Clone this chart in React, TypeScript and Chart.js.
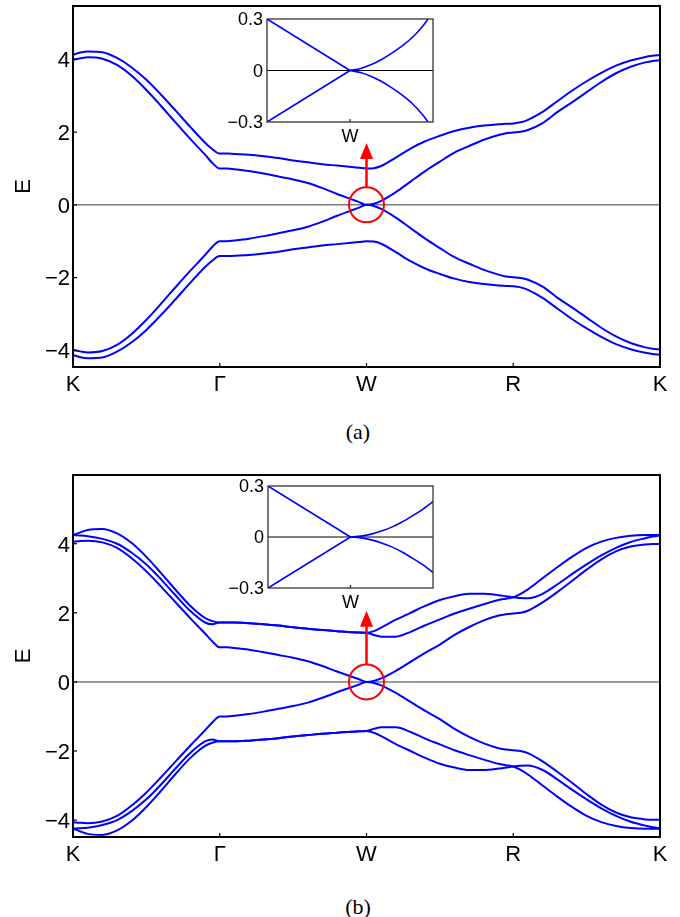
import React, { useEffect, useRef } from "react";
import { Chart, registerables } from "chart.js";

Chart.register(...registerables);

// ---------- data ----------
// k-path positions: K=0, Γ=1, W=2, R=3, K=4
const K_PATH = [
  0, 0.05, 0.1, 0.2, 0.3, 0.4, 0.5, 0.6, 0.7, 0.8, 0.9, 0.95,
  1, 1.05, 1.1, 1.2, 1.3, 1.4, 1.5, 1.6, 1.7, 1.8, 1.9, 1.95,
  2, 2.05, 2.1, 2.2, 2.3, 2.4, 2.5, 2.6, 2.7, 2.8, 2.9, 2.95,
  3, 3.05, 3.1, 3.2, 3.3, 3.4, 3.5, 3.6, 3.7, 3.8, 3.9, 3.95,
  4,
];
const X_TICKS = [0, 1, 2, 3, 4];
const X_LABELS = ["K", "Γ", "W", "R", "K"];
const Y_TICKS = [-4, -2, 0, 2, 4];
const Y_LABELS = ["−4", "−2", "0", "2", "4"];

// panel (a)
const A_UP1 = [
  4.13, 4.19, 4.22, 4.2, 4.04, 3.78, 3.44, 3.03, 2.59, 2.14, 1.71, 1.53,
  1.41, 1.41, 1.4, 1.38, 1.34, 1.29, 1.22, 1.17, 1.12, 1.08, 1.04, 1.02,
  1.0, 1.01, 1.07, 1.3, 1.55, 1.75, 1.9, 2.03, 2.12, 2.18, 2.22, 2.23,
  2.24, 2.27, 2.34, 2.56, 2.85, 3.14, 3.4, 3.63, 3.83, 3.97, 4.07, 4.1,
  4.12,
];
const A_UP2 = [
  3.99, 4.03, 4.06, 4.02, 3.85, 3.55, 3.16, 2.72, 2.26, 1.81, 1.38, 1.15,
  1.0, 1.0, 0.98, 0.93, 0.86, 0.78, 0.7, 0.6, 0.46, 0.3, 0.15, 0.075,
  0, 0.03, 0.11, 0.35, 0.64, 0.93, 1.19, 1.44, 1.62, 1.79, 1.92, 1.97,
  1.99, 2.01, 2.06, 2.25, 2.55, 2.82, 3.1, 3.38, 3.62, 3.8, 3.92, 3.96,
  3.98,
];
const A_DN1 = [
  -4.13, -4.19, -4.22, -4.2, -4.04, -3.78, -3.44, -3.03, -2.59, -2.14, -1.71, -1.53,
  -1.41, -1.41, -1.4, -1.38, -1.34, -1.29, -1.22, -1.17, -1.12, -1.08, -1.04, -1.02,
  -1.0, -1.01, -1.07, -1.3, -1.55, -1.75, -1.9, -2.03, -2.12, -2.18, -2.22, -2.23,
  -2.24, -2.27, -2.34, -2.56, -2.85, -3.14, -3.4, -3.63, -3.83, -3.97, -4.07, -4.1,
  -4.12,
];
const A_DN2 = [
  -3.99, -4.03, -4.06, -4.02, -3.85, -3.55, -3.16, -2.72, -2.26, -1.81, -1.38, -1.15,
  -1.0, -1.0, -0.98, -0.93, -0.86, -0.78, -0.7, -0.6, -0.46, -0.3, -0.15, -0.075,
  0, -0.03, -0.11, -0.35, -0.64, -0.93, -1.19, -1.44, -1.62, -1.79, -1.92, -1.97,
  -1.99, -2.01, -2.06, -2.25, -2.55, -2.82, -3.1, -3.38, -3.62, -3.8, -3.92, -3.96,
  -3.98,
];

// panel (b)
const B_UP1 = [
  4.25, 4.33, 4.4, 4.43, 4.3, 4.02, 3.62, 3.15, 2.66, 2.2, 1.85, 1.76,
  1.72, 1.72, 1.72, 1.7, 1.67, 1.63, 1.58, 1.54, 1.5, 1.47, 1.44, 1.43,
  1.42, 1.47, 1.57, 1.8, 2.0, 2.2, 2.37, 2.48, 2.55, 2.55, 2.51, 2.48,
  2.45, 2.43, 2.42, 2.55, 2.82, 3.12, 3.4, 3.66, 3.88, 4.05, 4.16, 4.21,
  4.24,
];
const B_UP2 = [
  4.25, 4.24, 4.22, 4.14, 4.0, 3.74, 3.4, 2.97, 2.5, 2.05, 1.72, 1.67,
  1.72, 1.72, 1.72, 1.7, 1.67, 1.63, 1.58, 1.54, 1.5, 1.47, 1.44, 1.43,
  1.42, 1.36, 1.31, 1.31, 1.45, 1.64, 1.81, 1.98, 2.12, 2.25, 2.37, 2.41,
  2.45, 2.55, 2.68, 3.0, 3.32, 3.62, 3.88, 4.06, 4.17, 4.23, 4.25, 4.25,
  4.25,
];
const B_UP3 = [
  4.06, 4.08, 4.09, 4.04, 3.88, 3.58, 3.2, 2.76, 2.3, 1.84, 1.4, 1.17,
  1.0, 1.0, 0.98, 0.93, 0.86, 0.78, 0.7, 0.6, 0.46, 0.3, 0.15, 0.075,
  0, 0.03, 0.1, 0.32, 0.58, 0.84, 1.08, 1.36, 1.59, 1.78, 1.92, 1.96,
  1.98, 2.0, 2.06, 2.3, 2.6, 2.92, 3.25, 3.55, 3.78, 3.92, 3.98, 3.99,
  3.99,
];
const B_DN1 = [
  -4.25, -4.33, -4.4, -4.43, -4.3, -4.02, -3.62, -3.15, -2.66, -2.2, -1.85, -1.76,
  -1.72, -1.72, -1.72, -1.7, -1.67, -1.63, -1.58, -1.54, -1.5, -1.47, -1.44, -1.43,
  -1.42, -1.47, -1.57, -1.8, -2.0, -2.2, -2.37, -2.48, -2.55, -2.55, -2.51, -2.48,
  -2.45, -2.43, -2.42, -2.55, -2.82, -3.12, -3.4, -3.66, -3.88, -4.05, -4.16, -4.21,
  -4.24,
];
const B_DN2 = [
  -4.25, -4.24, -4.22, -4.14, -4.0, -3.74, -3.4, -2.97, -2.5, -2.05, -1.72, -1.67,
  -1.72, -1.72, -1.72, -1.7, -1.67, -1.63, -1.58, -1.54, -1.5, -1.47, -1.44, -1.43,
  -1.42, -1.36, -1.31, -1.31, -1.45, -1.64, -1.81, -1.98, -2.12, -2.25, -2.37, -2.41,
  -2.45, -2.55, -2.68, -3.0, -3.32, -3.62, -3.88, -4.06, -4.17, -4.23, -4.25, -4.25,
  -4.25,
];
const B_DN3 = [
  -4.06, -4.08, -4.09, -4.04, -3.88, -3.58, -3.2, -2.76, -2.3, -1.84, -1.4, -1.17,
  -1.0, -1.0, -0.98, -0.93, -0.86, -0.78, -0.7, -0.6, -0.46, -0.3, -0.15, -0.075,
  0, -0.03, -0.1, -0.32, -0.58, -0.84, -1.08, -1.36, -1.59, -1.78, -1.92, -1.96,
  -1.98, -2.0, -2.06, -2.3, -2.6, -2.92, -3.25, -3.55, -3.78, -3.92, -3.98, -3.99,
  -3.99,
];

// insets (zoom around W; W at 0)
const INSET_LEFT_X = [-1, 0];
const INSET_RIGHT_X = [0, 0.125, 0.25, 0.375, 0.5, 0.625, 0.75, 0.875, 0.94, 1.0];
const INSET_Y_TICKS = [-0.3, 0, 0.3];
const INSET_Y_LABELS = ["−0.3", "0", "0.3"];
const INSET_X_LABEL = "W";

const IA_LEFT_UP = [0.3, 0];
const IA_LEFT_DN = [-0.3, 0];
const IA_RIGHT_UP = [0, 0.012, 0.033, 0.063, 0.1, 0.142, 0.192, 0.258, 0.3, 0.34];
const IA_RIGHT_DN = [0, -0.012, -0.033, -0.063, -0.1, -0.142, -0.192, -0.258, -0.3, -0.34];

const IB_LEFT_UP = [0.3, 0];
const IB_LEFT_DN = [-0.3, 0];
const IB_RIGHT_UP = [0, 0.005, 0.017, 0.035, 0.058, 0.088, 0.124, 0.163, 0.186, 0.208];
const IB_RIGHT_DN = [0, -0.005, -0.017, -0.035, -0.058, -0.088, -0.124, -0.163, -0.186, -0.208];

// annotation: arrow tip energy above W
const A_ARROW_TIP = 1.7;
const B_ARROW_TIP = 2.06;

// ---------- style ----------
const BLUE = "#0000ff";
const RED = "#ff0000";
const SANS = "'Liberation Sans', Arial, sans-serif";
const SERIF = "'Liberation Serif', 'DejaVu Serif', serif";
const MAIN_FONT = 22;
const INSET_FONT = 18;
const Y_LABEL_GAP = 3;

function pts(xs: number[], ys: number[]) {
  return xs.map((x, i) => ({ x, y: ys[i] }));
}

type MainProps = {
  top: number;
  height: number;
  padTop: number;
  xAxisH: number;
  yMin: number;
  yMax: number;
  bands: number[][];
  arrowTip: number;
};

function BandChart(p: MainProps) {
  const ref = useRef<HTMLCanvasElement | null>(null);
  useEffect(() => {
    const canvas = ref.current!;
    const decor = {
      id: "decor",
      beforeDatasetsDraw(chart: any) {
        const { ctx, chartArea: a, scales } = chart;
        const y0 = scales.y.getPixelForValue(0);
        ctx.save();
        ctx.strokeStyle = "#7a7a7a";
        ctx.lineWidth = 1.5;
        ctx.beginPath();
        ctx.moveTo(a.left, y0);
        ctx.lineTo(a.right, y0);
        ctx.stroke();
        ctx.restore();
      },
      afterDatasetsDraw(chart: any) {
        const { ctx, chartArea: a, scales } = chart;
        ctx.save();
        // frame
        ctx.strokeStyle = "#000";
        ctx.lineWidth = 2;
        ctx.strokeRect(a.left, a.top, a.right - a.left, a.bottom - a.top);
        // inward ticks and tick labels
        ctx.lineWidth = 1.2;
        ctx.fillStyle = "#000";
        ctx.font = `${MAIN_FONT}px ${SANS}`;
        ctx.textAlign = "center";
        ctx.textBaseline = "alphabetic";
        X_TICKS.forEach((v, i) => {
          const x = scales.x.getPixelForValue(v);
          ctx.beginPath();
          ctx.moveTo(x, a.bottom);
          ctx.lineTo(x, a.bottom - 4);
          ctx.stroke();
          ctx.fillText(X_LABELS[i], x, a.bottom + 24);
        });
        ctx.textAlign = "right";
        Y_TICKS.forEach((v, i) => {
          const y = scales.y.getPixelForValue(v);
          ctx.beginPath();
          ctx.moveTo(a.left, y);
          ctx.lineTo(a.left + 4, y);
          ctx.stroke();
          ctx.fillText(Y_LABELS[i], a.left - Y_LABEL_GAP, y + MAIN_FONT * 0.358);
        });
        // red circle + arrow at W, E=0
        const cx = scales.x.getPixelForValue(2);
        const cy = scales.y.getPixelForValue(0);
        const r = 17.5;
        ctx.strokeStyle = RED;
        ctx.fillStyle = RED;
        ctx.lineWidth = 2;
        ctx.beginPath();
        ctx.arc(cx, cy, r, 0, Math.PI * 2);
        ctx.stroke();
        const tipY = scales.y.getPixelForValue(p.arrowTip);
        const headL = 16;
        const headW = 6.5;
        ctx.lineWidth = 2.5;
        ctx.beginPath();
        ctx.moveTo(cx, cy - r);
        ctx.lineTo(cx, tipY + headL - 2);
        ctx.stroke();
        ctx.beginPath();
        ctx.moveTo(cx, tipY);
        ctx.lineTo(cx - headW, tipY + headL);
        ctx.lineTo(cx + headW, tipY + headL);
        ctx.closePath();
        ctx.fill();
        ctx.restore();
      },
    };
    const chart = new Chart(canvas, {
      type: "line",
      data: {
        datasets: p.bands.map((b) => ({
          data: pts(K_PATH, b),
          borderColor: BLUE,
          borderWidth: 2,
          pointRadius: 0,
          fill: false,
          cubicInterpolationMode: "monotone" as const,
        })),
      },
      options: {
        animation: false,
        responsive: false,
        events: [],
        parsing: false,
        layout: { padding: { top: p.padTop, right: 20, left: 0, bottom: 0 } },
        plugins: { legend: { display: false }, tooltip: { enabled: false } },
        scales: {
          x: {
            type: "linear",
            min: 0,
            max: 4,
            grid: { display: false, drawTicks: false },
            border: { display: false },
            afterBuildTicks: (s: any) => {
              s.ticks = X_TICKS.map((v) => ({ value: v }));
            },
            afterFit: (s: any) => {
              s.height = p.xAxisH;
              s.paddingLeft = 0;
              s.paddingRight = 0;
            },
            ticks: { display: false },
          },
          y: {
            type: "linear",
            min: p.yMin,
            max: p.yMax,
            grid: { display: false, drawTicks: false },
            border: { display: false },
            afterBuildTicks: (s: any) => {
              s.ticks = Y_TICKS.map((v) => ({ value: v }));
            },
            afterFit: (s: any) => {
              s.width = 73;
              s.paddingTop = 0;
              s.paddingBottom = 0;
            },
            ticks: { display: false },
            title: {
              display: true,
              text: "E",
              color: "#000",
              font: { family: SANS, size: MAIN_FONT },
              padding: { top: 11, bottom: 0 },
            },
          },
        },
      },
      plugins: [decor],
    } as any);
    return () => chart.destroy();
  }, []);
  return (
    <canvas
      ref={ref}
      width={680}
      height={p.height}
      style={{ position: "absolute", left: 0, top: p.top, width: 680, height: p.height }}
    />
  );
}

type InsetProps = {
  left: number;
  top: number;
  width: number;
  height: number;
  yAxisW: number;
  padTop: number;
  padRight: number;
  xAxisH: number;
  leftUp: number[];
  leftDn: number[];
  rightUp: number[];
  rightDn: number[];
};

function InsetChart(p: InsetProps) {
  const ref = useRef<HTMLCanvasElement | null>(null);
  useEffect(() => {
    const canvas = ref.current!;
    const decor = {
      id: "insetDecor",
      beforeDatasetsDraw(chart: any) {
        const { ctx, chartArea: a, scales } = chart;
        ctx.save();
        ctx.fillStyle = "#fff";
        ctx.fillRect(a.left, a.top, a.right - a.left, a.bottom - a.top);
        const y0 = scales.y.getPixelForValue(0);
        ctx.strokeStyle = "#000";
        ctx.lineWidth = 1.2;
        ctx.beginPath();
        ctx.moveTo(a.left, y0);
        ctx.lineTo(a.right, y0);
        ctx.stroke();
        ctx.restore();
      },
      afterDatasetsDraw(chart: any) {
        const { ctx, chartArea: a, scales } = chart;
        ctx.save();
        ctx.strokeStyle = "#333";
        ctx.lineWidth = 1.3;
        ctx.strokeRect(a.left, a.top, a.right - a.left, a.bottom - a.top);
        const xw = scales.x.getPixelForValue(0);
        ctx.beginPath();
        ctx.moveTo(xw, a.bottom);
        ctx.lineTo(xw, a.bottom - 3);
        ctx.stroke();
        ctx.fillStyle = "#000";
        ctx.font = `${INSET_FONT}px ${SANS}`;
        ctx.textAlign = "center";
        ctx.textBaseline = "alphabetic";
        ctx.fillText(INSET_X_LABEL, xw, a.bottom + 20);
        ctx.textAlign = "right";
        INSET_Y_TICKS.forEach((v, i) => {
          const y = scales.y.getPixelForValue(v);
          ctx.fillText(INSET_Y_LABELS[i], a.left - 4, y + INSET_FONT * 0.358);
        });
        ctx.restore();
      },
    };
    const ds = (xs: number[], ys: number[]) => ({
      data: pts(xs, ys),
      borderColor: BLUE,
      borderWidth: 1.6,
      pointRadius: 0,
      fill: false,
      cubicInterpolationMode: "monotone" as const,
    });
    const chart = new Chart(canvas, {
      type: "line",
      data: {
        datasets: [
          ds(INSET_LEFT_X, p.leftUp),
          ds(INSET_LEFT_X, p.leftDn),
          ds(INSET_RIGHT_X, p.rightUp),
          ds(INSET_RIGHT_X, p.rightDn),
        ],
      },
      options: {
        animation: false,
        responsive: false,
        events: [],
        parsing: false,
        layout: { padding: { top: p.padTop, right: p.padRight, left: 0, bottom: 0 } },
        plugins: { legend: { display: false }, tooltip: { enabled: false } },
        scales: {
          x: {
            type: "linear",
            min: -1,
            max: 1,
            grid: { display: false, drawTicks: false },
            border: { display: false },
            afterBuildTicks: (s: any) => {
              s.ticks = [{ value: 0 }];
            },
            afterFit: (s: any) => {
              s.height = p.xAxisH;
              s.paddingLeft = 0;
              s.paddingRight = 0;
            },
            ticks: { display: false },
          },
          y: {
            type: "linear",
            min: -0.3,
            max: 0.3,
            grid: { display: false, drawTicks: false },
            border: { display: false },
            afterBuildTicks: (s: any) => {
              s.ticks = INSET_Y_TICKS.map((v) => ({ value: v }));
            },
            afterFit: (s: any) => {
              s.width = p.yAxisW;
              s.paddingTop = 0;
              s.paddingBottom = 0;
            },
            ticks: { display: false },
          },
        },
      },
      plugins: [decor],
    } as any);
    return () => chart.destroy();
  }, []);
  return (
    <canvas
      ref={ref}
      width={p.width}
      height={p.height}
      style={{ position: "absolute", left: p.left, top: p.top, width: p.width, height: p.height }}
    />
  );
}

function Caption({ text, top }: { text: string; top: number }) {
  return (
    <div
      style={{
        position: "absolute",
        left: 318,
        top,
        width: 80,
        textAlign: "center",
        fontFamily: SERIF,
        fontSize: 22,
        lineHeight: "24px",
        color: "#000",
      }}
    >
      {text}
    </div>
  );
}

export default function App() {
  return (
    <div
      style={{
        position: "absolute",
        left: 0,
        top: 0,
        width: 680,
        height: 917,
        background: "#fff",
        overflow: "hidden",
      }}
    >
      <BandChart
        top={0}
        height={415}
        padTop={6}
        xAxisH={48}
        yMin={-4.46}
        yMax={5.47}
        bands={[A_UP1, A_UP2, A_DN1, A_DN2]}
        arrowTip={A_ARROW_TIP}
      />
      <InsetChart
        left={222}
        top={10}
        width={220}
        height={135}
        yAxisW={45}
        padTop={9}
        padRight={9}
        xAxisH={23}
        leftUp={IA_LEFT_UP}
        leftDn={IA_LEFT_DN}
        rightUp={IA_RIGHT_UP}
        rightDn={IA_RIGHT_DN}
      />
      <Caption text="(a)" top={420} />
      <BandChart
        top={470}
        height={415}
        padTop={5}
        xAxisH={48}
        yMin={-4.49}
        yMax={5.99}
        bands={[B_UP1, B_UP2, B_UP3, B_DN1, B_DN2, B_DN3]}
        arrowTip={B_ARROW_TIP}
      />
      <InsetChart
        left={222}
        top={477}
        width={220}
        height={135}
        yAxisW={46}
        padTop={9}
        padRight={9}
        xAxisH={24}
        leftUp={IB_LEFT_UP}
        leftDn={IB_LEFT_DN}
        rightUp={IB_RIGHT_UP}
        rightDn={IB_RIGHT_DN}
      />
      <Caption text="(b)" top={895} />
    </div>
  );
}
